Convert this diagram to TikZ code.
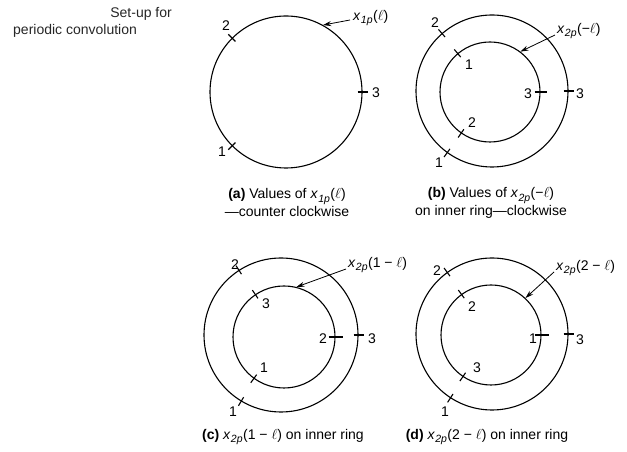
\documentclass[tikz,border=0pt]{standalone}
\usepackage{fontspec}
\setmainfont{Liberation Sans}
\usetikzlibrary{calc,arrows.meta}
\newcommand\xsub[2]{\textit{x}\kern0.3pt\raisebox{-0.5ex}{\fontsize{10.5}{10}\selectfont\textit{#1}}\kern0.5pt#2}
\tikzset{
  ring/.style={circle,draw,line width=1.1pt,inner sep=0pt,minimum size=#1},
  lbl/.style={inner sep=0pt,font=\fontsize{14}{16}\selectfont},
  captext/.style={inner sep=0pt,align=center,font=\fontsize{14}{18}\selectfont},
  pointer/.style={line width=0.8pt,-{Stealth[length=8pt,width=5pt]}},
  tickmark/.style={line width=1.1pt}
}
\newcommand\tk[3]{\draw[tickmark] ($(#1.#2)!#3!(#1.center)$) -- ($(#1.#2)!-#3!(#1.center)$);}
\begin{document}
\begin{tikzpicture}[x=1pt,y=1pt]
\useasboundingbox (0,0) rectangle (627,452);
% title
\node[lbl,anchor=east,text=black!85] (t1) at (172,438) {Set-up for};
\node[lbl,anchor=west,text=black!85] (t2) at (13,421) {periodic convolution};

% (a)
\node[ring=152pt] (ca) at (286,360) {};
\tk{ca}{135}{5pt}\tk{ca}{225}{5pt}\tk{ca}{0}{5pt}
\node[lbl] (a2) at (226,426) {2};
\node[lbl] (a1) at (222,300) {1};
\node[lbl] (a3) at (376,359) {3};
\node[lbl,anchor=west] (la) at (353,434) {\xsub{1p}{($\ell$)}};
\draw[pointer] (la.west) ++(-3,-2) coordinate (pa) (pa) -- (ca.61);
\node[captext] (capa) at (287,249) {\textbf{(a)} Values of \xsub{1p}{($\ell$)}\\—counter clockwise};

% (b)
\node[ring=152pt] (cbo) at (492,361) {};
\node[ring=100pt] (cbi) at (490,360) {};
\tk{cbo}{131}{5pt}\tk{cbo}{234}{5pt}\tk{cbo}{0}{5pt}
\tk{cbi}{130}{5pt}\tk{cbi}{235}{5pt}\tk{cbi}{0}{6pt}
\node[lbl] (bo2) at (435,429) {2};
\node[lbl] (bo1) at (439,289) {1};
\node[lbl] (bo3) at (580,358) {3};
\node[lbl] (bi1) at (469,387) {1};
\node[lbl] (bi2) at (472,329) {2};
\node[lbl] (bi3) at (528,358) {3};
\node[lbl,anchor=west] (lb) at (557,421) {\xsub{2p}{(−$\ell$)}};
\draw[pointer] (lb.west) ++(-2,-4) coordinate (pb) (pb) -- (cbi.53);
\node[captext] (capb) at (491,249) {\textbf{(b)} Values of \xsub{2p}{(−$\ell$)}\\on inner ring—clockwise};

% (c)
\node[ring=154pt] (cco) at (281,117) {};
\node[ring=102pt] (cci) at (284,115) {};
\tk{cco}{123}{5pt}\tk{cco}{239}{5pt}\tk{cco}{0}{5pt}
\tk{cci}{124}{5pt}\tk{cci}{234}{5pt}\tk{cci}{0}{7pt}
\node[lbl] (co2) at (235,187) {2};
\node[lbl] (co1) at (233,40) {1};
\node[lbl] (co3) at (372,113) {3};
\node[lbl] (ci3) at (266,148) {3};
\node[lbl] (ci1) at (264,84) {1};
\node[lbl] (ci2) at (323,113) {2};
\node[lbl,anchor=west] (lc) at (348,187) {\xsub{2p}{(1 − $\ell$)}};
\draw[pointer] (lc.west) ++(-2,-4) coordinate (pc) (pc) -- (cci.76);
\node[captext] (capc) at (283,15) {\textbf{(c)} \xsub{2p}{(1 − $\ell$)} on inner ring};

% (d)
\node[ring=152pt] (cdo) at (492,118) {};
\node[ring=100pt] (cdi) at (491,117) {};
\tk{cdo}{126}{5pt}\tk{cdo}{237}{5pt}\tk{cdo}{0}{5pt}
\tk{cdi}{126}{5pt}\tk{cdi}{236}{5pt}\tk{cdi}{0}{7pt}
\node[lbl] (do2) at (437,181) {2};
\node[lbl] (do1) at (445,40) {1};
\node[lbl] (do3) at (580,112) {3};
\node[lbl] (di2) at (472,145) {2};
\node[lbl] (di3) at (477,84) {3};
\node[lbl] (di1) at (533,113) {1};
\node[lbl,anchor=west] (ld) at (556,184) {\xsub{2p}{(2 − $\ell$)}};
\draw[pointer] (ld.west) ++(-2,-4) coordinate (pd) (pd) -- (cdi.47);
\node[captext] (capd) at (487,15) {\textbf{(d)} \xsub{2p}{(2 − $\ell$)} on inner ring};
\end{tikzpicture}
\end{document}
